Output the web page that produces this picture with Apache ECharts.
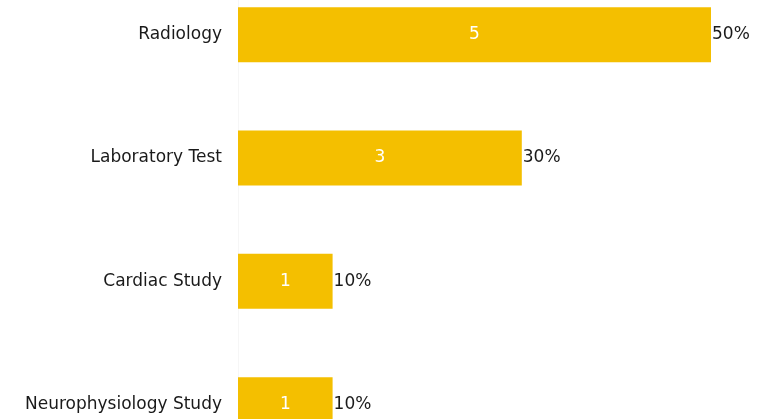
<!DOCTYPE html>
<html>
<head>
<meta charset="utf-8">
<script src="https://cdn.jsdelivr.net/npm/echarts@6/dist/echarts.min.js"></script>
<style>
  html, body { margin: 0; padding: 0; background: #fff; overflow: hidden; }
  /* 原图底部被裁掉，容器比窗口高并向上偏移 */
  #chart { position: absolute; left: 0; top: -27px; width: 772px; height: 500px; }
</style>
</head>
<body>
<div id="chart"></div>
<script>
// 数据
const categories = ['Radiology', 'Laboratory Test', 'Cardiac Study', 'Neurophysiology Study']
const counts = [5, 3, 1, 1]
const percents = ['50%', '30%', '10%', '10%']

const chart = echarts.init(document.getElementById('chart'))

const fontFamily = 'DejaVu Sans'
const fontSize = 17

const option = {
  animation: false,
  grid: {
    left: 238,
    top: 0,
    width: 520.3,
    height: 493.3,
  },
  xAxis: {
    type: 'value',
    min: 0,
    max: 5.5,
    show: false,
  },
  yAxis: {
    type: 'category',
    data: categories,
    inverse: true,
    axisLine: { show: true, lineStyle: { color: '#f6f6f6', width: 1 } },
    axisTick: { show: false },
    splitLine: { show: false },
    axisLabel: {
      margin: 16,
      color: '#1a1a1a',
      fontSize: fontSize,
      fontFamily: fontFamily,
    },
  },
  series: [
    {
      type: 'bar',
      data: counts,
      barWidth: 55,
      itemStyle: { color: '#f4bf00' },
      label: {
        show: true,
        position: 'inside',
        color: '#fff',
        fontSize: fontSize,
        fontFamily: fontFamily,
      },
    },
    {
      // 透明柱子，只用来在右侧显示百分比
      type: 'bar',
      data: counts,
      barWidth: 55,
      barGap: '-100%',
      itemStyle: { color: 'rgba(0,0,0,0)' },
      label: {
        show: true,
        position: 'right',
        distance: 1,
        color: '#1a1a1a',
        fontSize: fontSize,
        fontFamily: fontFamily,
        formatter: p => percents[p.dataIndex],
      },
    },
  ],
}
chart.setOption(option)
</script>
</body>
</html>
